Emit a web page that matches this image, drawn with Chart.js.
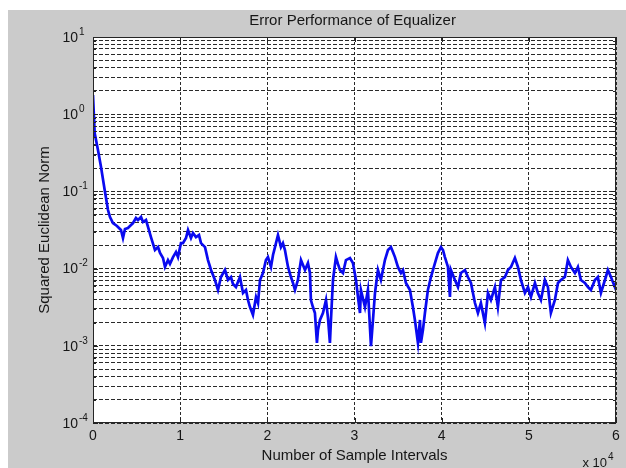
<!DOCTYPE html>
<html>
<head>
<meta charset="utf-8">
<title>Error Performance of Equalizer</title>
<script src="https://cdn.jsdelivr.net/npm/chart.js@4.4.1/dist/chart.umd.min.js"></script>
<style>
  html, body { margin: 0; padding: 0; background: #ffffff; }
  #wrap { width: 626px; height: 468px; }
</style>
</head>
<body>
<div id="wrap"><canvas id="c" width="626" height="468"></canvas></div>
<script>
// Labels
const chartTitle = 'Error Performance of Equalizer';
const xAxisTitle = 'Number of Sample Intervals';
const yAxisTitle = 'Squared Euclidean Norm';

// X axis: sample index, labelled in units of 10^4
const xTickValues = [0, 10000, 20000, 30000, 40000, 50000, 60000];
const xTickLabels = ['0', '1', '2', '3', '4', '5', '6'];
const xScaleBase = '10';
const xScaleExp = '4';

// Y axis: logarithmic decades with their exponents
const yDecades = [1e-4, 1e-3, 1e-2, 1e-1, 1, 10];
const yExponents = ['-4', '-3', '-2', '-1', '0', '1'];
const yMinorSteps = [1, 2, 3, 4, 5, 6, 7, 8, 9];

// Learning curve of the equalizer
const sampleIndex = [
  0, 190, 570, 920, 1340, 1720, 1950, 2290, 2750, 3210,
  3440, 3670, 4010, 4360, 4590, 4930, 5160, 5510, 5740, 6080,
  6310, 6650, 7110, 7460, 7690, 8030, 8260, 8600, 8830, 9180,
  9520, 9750, 10090, 10320, 10670, 10900, 11240, 11470, 11810, 12160,
  12390, 12850, 13190, 13540, 13990, 14340, 14680, 15140, 15490, 15830,
  16060, 16400, 16860, 17210, 17550, 17780, 18010, 18350, 18700, 18930,
  19160, 19500, 19840, 20070, 20420, 20650, 20880, 21220, 21560, 21790,
  22020, 22370, 22710, 22940, 23170, 23510, 23860, 24090, 24320, 24660,
  24890, 25000, 25230, 25460, 25690, 25810, 26040, 26380, 26730, 26960,
  27180, 27300, 27530, 27870, 28100, 28330, 28680, 29020, 29480, 29820,
  30170, 30400, 30630, 30740, 31200, 31540, 31890, 32120, 32350, 32690,
  33030, 33490, 33840, 34180, 34410, 34640, 34980, 35330, 35560, 35900,
  36360, 36700, 36930, 37280, 37510, 37620, 37850, 38080, 38420, 38770,
  39230, 39570, 39920, 40150, 40370, 40720, 40950, 41060, 41520, 41870,
  42210, 42670, 43010, 43360, 43820, 44160, 44500, 44960, 45310, 45650,
  46110, 46450, 46800, 47260, 47600, 47950, 48400, 48750, 49090, 49550,
  49900, 50240, 50700, 51040, 51390, 51840, 52190, 52530, 52990, 53340,
  53680, 54140, 54480, 54830, 55290, 55630, 55970, 56430, 56780, 57120,
  57580, 57920, 58270, 58730, 59070, 59420, 59870, 60000
];
const squaredNorm = [
  1.77, 0.571, 0.344, 0.207, 0.104, 0.0574, 0.0466, 0.0389, 0.0356, 0.0316,
  0.0249, 0.0326, 0.0336, 0.0367, 0.0389, 0.0452, 0.0426, 0.0466, 0.0401, 0.0426,
  0.0346, 0.0256, 0.0174, 0.0190, 0.0159, 0.0137, 0.0105, 0.0129, 0.0115, 0.0141,
  0.0164, 0.0141, 0.0214, 0.0214, 0.0249, 0.0316, 0.0249, 0.0289, 0.0256, 0.0272,
  0.0214, 0.0190, 0.0129, 0.00959, 0.00712, 0.00528, 0.00778, 0.00959, 0.00712, 0.00778,
  0.00631, 0.00577, 0.00778, 0.00483, 0.00528, 0.00392, 0.00318, 0.00251, 0.00429, 0.00358,
  0.00712, 0.00877, 0.0129, 0.0141, 0.0105, 0.0150, 0.0190, 0.0272, 0.0190, 0.0214,
  0.0174, 0.0105, 0.00778, 0.00651, 0.00528, 0.00712, 0.0129, 0.0111, 0.00959, 0.0118,
  0.00877, 0.00392, 0.00318, 0.00266, 0.00109, 0.00160, 0.00216, 0.00266, 0.00392, 0.00229,
  0.00109, 0.00216, 0.00712, 0.0141, 0.0115, 0.00959, 0.00877, 0.0129, 0.0137, 0.0118,
  0.00712, 0.00429, 0.00266, 0.00528, 0.00318, 0.00528, 0.00099, 0.00216, 0.00483, 0.00959,
  0.00712, 0.0129, 0.0174, 0.0190, 0.0164, 0.0141, 0.0105, 0.00877, 0.00959, 0.00651,
  0.00528, 0.00318, 0.00216, 0.00109, 0.00216, 0.00109, 0.00160, 0.00266, 0.00528, 0.00778,
  0.0118, 0.0159, 0.0190, 0.0174, 0.0141, 0.0105, 0.00429, 0.00959, 0.00712, 0.00577,
  0.00877, 0.00959, 0.00778, 0.00651, 0.00358, 0.00266, 0.00358, 0.00197, 0.00483, 0.00392,
  0.00577, 0.00318, 0.00712, 0.00778, 0.00959, 0.0105, 0.0137, 0.0105, 0.00712, 0.00483,
  0.00577, 0.00429, 0.00651, 0.00483, 0.00392, 0.00712, 0.00577, 0.00266, 0.00392, 0.00651,
  0.00712, 0.00778, 0.0129, 0.0105, 0.00877, 0.0105, 0.00712, 0.00651, 0.00577, 0.00528,
  0.00712, 0.00778, 0.00483, 0.00712, 0.00959, 0.00778, 0.00577, 0.00651
];

// Grid positions on the log axis: 1..9 times each decade
const yGridValues = [];
yDecades.forEach((d, i) => {
  if (i === yDecades.length - 1) { yGridValues.push(d); return; }
  yMinorSteps.forEach(m => yGridValues.push(m * d));
});

const FONT = '"Liberation Sans", Arial, Helvetica, sans-serif';
const TEXT = '#161616';

// Figure background, axes box, inner tick marks and all text
const figure = {
  id: 'figure',
  beforeDraw(chart) {
    const { ctx, chartArea: a } = chart;
    ctx.save();
    ctx.fillStyle = '#ffffff';
    ctx.fillRect(0, 0, chart.width, chart.height);
    ctx.fillStyle = '#cbcbcb';
    ctx.fillRect(8, 10, chart.width - 8, chart.height - 10);
    ctx.fillStyle = '#ffffff';
    ctx.fillRect(a.left, a.top, a.right - a.left, a.bottom - a.top);
    ctx.restore();
  },
  afterDraw(chart) {
    const { ctx, chartArea: a } = chart;
    const xs = chart.scales.x, ys = chart.scales.y;
    ctx.save();

    // inner tick marks
    ctx.strokeStyle = '#222';
    ctx.lineWidth = 1;
    ctx.setLineDash([]);
    ctx.beginPath();
    yGridValues.forEach(v => {
      const y = Math.round(ys.getPixelForValue(v)) + 0.5;
      const major = yDecades.some(d => Math.abs(d - v) / d < 1e-9);
      const len = major ? 5 : 3;
      ctx.moveTo(a.left, y); ctx.lineTo(a.left + len, y);
      ctx.moveTo(a.right, y); ctx.lineTo(a.right - len, y);
    });
    xTickValues.forEach(v => {
      const x = Math.round(xs.getPixelForValue(v)) + 0.5;
      ctx.moveTo(x, a.bottom); ctx.lineTo(x, a.bottom - 5);
      ctx.moveTo(x, a.top); ctx.lineTo(x, a.top + 5);
    });
    ctx.stroke();

    // axes box
    ctx.strokeStyle = '#262626';
    ctx.strokeRect(a.left + 0.5, a.top + 0.5, a.right - a.left - 1, a.bottom - a.top - 1);

    ctx.fillStyle = TEXT;

    // y tick labels: 10 with raised exponent
    yDecades.forEach((d, i) => {
      const y = ys.getPixelForValue(d);
      ctx.font = '14px ' + FONT;
      ctx.textAlign = 'right';
      ctx.textBaseline = 'middle';
      ctx.fillText('10', a.left - 15, y + 1);
      ctx.font = '10px ' + FONT;
      ctx.textAlign = 'left';
      ctx.fillText(yExponents[i], a.left - 14, y - 5);
    });

    // x tick labels
    ctx.font = '14px ' + FONT;
    ctx.textAlign = 'center';
    ctx.textBaseline = 'middle';
    xTickValues.forEach((v, i) => {
      ctx.fillText(xTickLabels[i], xs.getPixelForValue(v), a.bottom + 13);
    });

    // x scale multiplier
    ctx.font = '13px ' + FONT;
    ctx.textAlign = 'right';
    ctx.textBaseline = 'alphabetic';
    ctx.fillText('x ' + xScaleBase, a.right - 9, 467);
    ctx.font = '10px ' + FONT;
    ctx.textAlign = 'left';
    ctx.fillText(xScaleExp, a.right - 8, 460);

    // titles
    ctx.font = '15px ' + FONT;
    ctx.textAlign = 'center';
    ctx.textBaseline = 'middle';
    ctx.fillText(chartTitle, (a.left + a.right) / 2 - 2, 21);
    ctx.fillText(xAxisTitle, (a.left + a.right) / 2, 456);
    ctx.translate(45, (a.top + a.bottom) / 2);
    ctx.rotate(-Math.PI / 2);
    ctx.fillText(yAxisTitle, 0, 0);

    ctx.restore();
  }
};

new Chart(document.getElementById('c'), {
  type: 'line',
  data: {
    datasets: [{
      data: sampleIndex.map((x, i) => ({ x, y: squaredNorm[i] })),
      borderColor: '#0a0af0',
      borderWidth: 2.7,
      pointRadius: 0,
      tension: 0,
      fill: false
    }]
  },
  options: {
    responsive: false,
    animation: false,
    events: [],
    layout: { padding: { left: 93, top: 37, right: 10, bottom: 45 } },
    plugins: { legend: { display: false }, tooltip: { enabled: false }, title: { display: false } },
    scales: {
      x: {
        type: 'linear',
        min: 0,
        max: 60000,
        afterBuildTicks: s => { s.ticks = xTickValues.map(v => ({ value: v })); },
        ticks: { display: false },
        grid: {
          drawTicks: false,
          color: '#2a2a2a',
          lineWidth: 1
        },
        border: { display: false, dash: [3, 2] }
      },
      y: {
        type: 'logarithmic',
        min: 1e-4,
        max: 10,
        afterBuildTicks: s => { s.ticks = yGridValues.map(v => ({ value: v })); },
        ticks: { display: false },
        grid: {
          drawTicks: false,
          color: '#2a2a2a',
          lineWidth: 1
        },
        border: { display: false, dash: [4, 2] }
      }
    }
  },
  plugins: [figure]
});
</script>
</body>
</html>
